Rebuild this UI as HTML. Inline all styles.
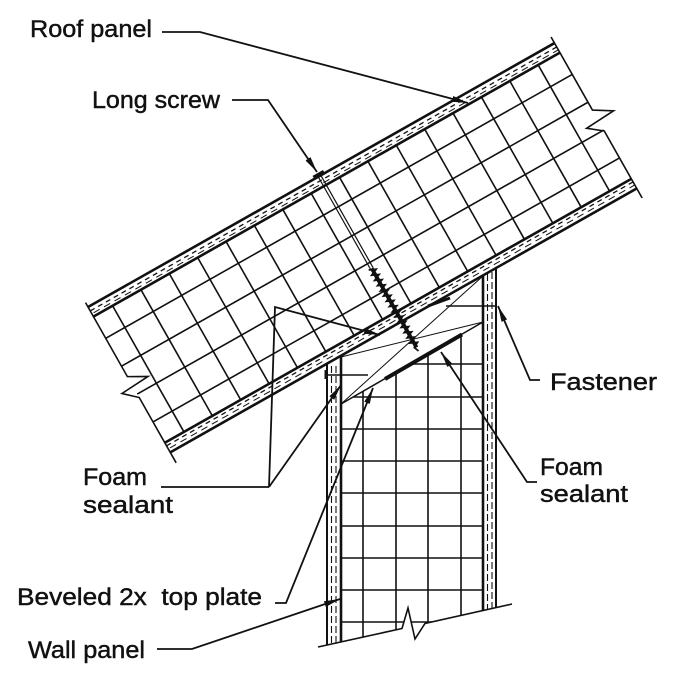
<!DOCTYPE html>
<html><head><meta charset="utf-8">
<style>
html,body{margin:0;padding:0;background:#fff;}
svg{display:block;}
text{font-family:"Liberation Sans",sans-serif;font-size:24px;fill:#111;stroke:#111;stroke-width:0.45px;}
</style></head><body>
<svg width="680" height="689" viewBox="0 0 680 689" xmlns="http://www.w3.org/2000/svg">
<defs>
<marker id="ah" markerWidth="17" markerHeight="8" refX="16" refY="4" orient="auto" markerUnits="userSpaceOnUse">
<path d="M0,1 L16,4 L0,7 z" fill="#111"/>
</marker>
<clipPath id="wallclip">
<polygon points="341,404 483,322 483,610.7 425,623.5 415,639 408,608 402,628.5 341,641.9"/>
</clipPath>
</defs>

<!-- ROOF PANEL -->
<g transform="translate(88,307) rotate(-29.5)" stroke="#111" fill="none">
  <g stroke-width="1.6">
    <line x1="22" y1="11" x2="22" y2="156"/>
    <line x1="54.6" y1="11" x2="54.6" y2="156"/>
    <line x1="87.2" y1="11" x2="87.2" y2="156"/>
    <line x1="119.8" y1="11" x2="119.8" y2="156"/>
    <line x1="152.4" y1="11" x2="152.4" y2="156"/>
    <line x1="185" y1="11" x2="185" y2="156"/>
    <line x1="217.6" y1="11" x2="217.6" y2="156"/>
    <line x1="250.2" y1="11" x2="250.2" y2="156"/>
    <line x1="282.8" y1="11" x2="282.8" y2="156"/>
    <line x1="315.4" y1="11" x2="315.4" y2="156"/>
    <line x1="348" y1="11" x2="348" y2="156"/>
    <line x1="380.6" y1="11" x2="380.6" y2="156"/>
    <line x1="413.2" y1="11" x2="413.2" y2="156"/>
    <line x1="445.8" y1="11" x2="445.8" y2="156"/>
    <line x1="478.4" y1="11" x2="478.4" y2="156"/>
    <line x1="511" y1="11" x2="511" y2="156"/>
    <line x1="0" y1="36" x2="536" y2="36"/>
    <line x1="0" y1="68" x2="536" y2="68"/>
    <line x1="0" y1="100" x2="536" y2="100"/>
    <line x1="0" y1="132" x2="536" y2="132"/>
  </g>
  <rect x="0" y="0" width="536" height="11" fill="#fff" stroke="none"/>
  <rect x="0" y="156" width="536" height="11" fill="#fff" stroke="none"/>
  <line x1="0" y1="0" x2="536" y2="0" stroke-width="2.6"/>
  <line x1="0" y1="4.5" x2="536" y2="4.5" stroke-width="1.3" stroke-dasharray="5 4"/>
  <line x1="2" y1="7.8" x2="536" y2="7.8" stroke-width="1" stroke-dasharray="7 5"/>
  <line x1="0" y1="11" x2="536" y2="11" stroke-width="2.6"/>
  <line x1="0" y1="156" x2="536" y2="156" stroke-width="2.6"/>
  <line x1="0" y1="159.5" x2="536" y2="159.5" stroke-width="1.3" stroke-dasharray="5 4"/>
  <line x1="2" y1="163" x2="536" y2="163" stroke-width="1" stroke-dasharray="7 5"/>
  <line x1="0" y1="167" x2="536" y2="167" stroke-width="2.6"/>
  <polyline points="0,-5 0,80 18,90 -13,92 0,104 0,179" stroke-width="1.6" fill="none"/>
  <polyline points="536,-7 536,77 554,88 522,90 536,101 536,178" stroke-width="1.6" fill="none"/>
  <!-- screw -->
  <rect x="260" y="-3.5" width="12" height="4.5" fill="#111" stroke="none"/>
  <line x1="264.5" y1="1" x2="264.5" y2="106" stroke-width="1.2"/>
  <line x1="267.5" y1="1" x2="267.5" y2="106" stroke-width="1.2"/>
  <line x1="266" y1="106" x2="266" y2="197" stroke-width="3.8"/>
  <polyline stroke-width="1.7" points="262.5,106 269.5,109 262.5,112 269.5,115 262.5,118 269.5,121 262.5,124 269.5,127 262.5,130 269.5,133 262.5,136 269.5,139 262.5,142 269.5,145 262.5,148 269.5,151 262.5,154 269.5,157 262.5,160 269.5,163 262.5,166 269.5,169 262.5,172 269.5,175 262.5,178 269.5,181 262.5,184 269.5,187 262.5,190 269.5,193 264,196 266,201"/>
</g>

<!-- WALL PANEL -->
<g stroke="#111" fill="none">
  <g clip-path="url(#wallclip)" stroke-width="1.6">
    <line x1="363" y1="300" x2="363" y2="660"/>
    <line x1="396" y1="300" x2="396" y2="660"/>
    <line x1="428" y1="300" x2="428" y2="660"/>
    <line x1="461" y1="300" x2="461" y2="660"/>
    <line x1="341" y1="364" x2="483" y2="364"/>
    <line x1="341" y1="397" x2="483" y2="397"/>
    <line x1="341" y1="429" x2="483" y2="429"/>
    <line x1="341" y1="461" x2="483" y2="461"/>
    <line x1="341" y1="493" x2="483" y2="493"/>
    <line x1="341" y1="526" x2="483" y2="526"/>
    <line x1="341" y1="558" x2="483" y2="558"/>
    <line x1="341" y1="590" x2="483" y2="590"/>
    <line x1="341" y1="622" x2="483" y2="622"/>
  </g>
  <line x1="327" y1="363" x2="327" y2="645" stroke-width="2"/>
  <line x1="331.5" y1="366" x2="331.5" y2="643" stroke-width="1.1" stroke-dasharray="7 3"/>
  <line x1="336" y1="366" x2="336" y2="643" stroke-width="1.1" stroke-dasharray="7 3"/>
  <line x1="341" y1="356" x2="341" y2="642" stroke-width="2.6"/>
  <line x1="483" y1="275" x2="483" y2="611" stroke-width="2.6"/>
  <line x1="487.5" y1="274" x2="487.5" y2="609" stroke-width="1.1" stroke-dasharray="7 3"/>
  <line x1="492" y1="272" x2="492" y2="608" stroke-width="1.1" stroke-dasharray="7 3"/>
  <line x1="496" y1="268" x2="496" y2="607" stroke-width="2"/>
  <polyline points="318,647 402,628.5 408,608 415,639 425,623.5 512,604" stroke-width="1.6"/>
  <line x1="341" y1="404" x2="483" y2="322" stroke-width="1.5"/>
  <line x1="341" y1="357" x2="483" y2="322" stroke-width="1"/>
  <line x1="341" y1="404" x2="483" y2="276" stroke-width="1"/>
  <line x1="385" y1="379" x2="462" y2="334.5" stroke-width="4"/>
  <line x1="327" y1="375" x2="368" y2="375" stroke-width="1.5"/>
  <rect x="324.5" y="370" width="3" height="9" fill="#111" stroke="none"/>
  <line x1="446" y1="306" x2="497" y2="306" stroke-width="1.5"/>
  <line x1="428" y1="306" x2="450" y2="298" stroke-width="3"/>
</g>

<!-- LEADERS -->
<g stroke="#111" stroke-width="1.8" fill="none">
  <polyline points="162,32 200,32 468,103" marker-end="url(#ah)"/>
  <polyline points="232,100 268,100 317,172" marker-end="url(#ah)"/>
  <polyline points="161,487 269,487"/>
  <polyline points="269,487 275,307 380,335" marker-end="url(#ah)"/>
  <polyline points="269,487 341,385" marker-end="url(#ah)"/>
  <polyline points="275,603 286,603 373,388" marker-end="url(#ah)"/>
  <polyline points="157,649 192,649 340,599" marker-end="url(#ah)"/>
  <polyline points="540,380 530,380 498,306" marker-end="url(#ah)"/>
  <polyline points="537,482 527,482 441,352" marker-end="url(#ah)"/>
</g>

<!-- LABELS -->
<text x="30" y="37" textLength="122" lengthAdjust="spacingAndGlyphs">Roof panel</text>
<text x="92" y="108" textLength="128" lengthAdjust="spacingAndGlyphs">Long screw</text>
<text x="83" y="485" textLength="64" lengthAdjust="spacingAndGlyphs">Foam</text>
<text x="83" y="513" textLength="90" lengthAdjust="spacingAndGlyphs">sealant</text>
<text x="17" y="605" textLength="245" lengthAdjust="spacingAndGlyphs" xml:space="preserve">Beveled 2x  top plate</text>
<text x="28" y="658" textLength="117" lengthAdjust="spacingAndGlyphs">Wall panel</text>
<text x="550" y="390" textLength="107" lengthAdjust="spacingAndGlyphs">Fastener</text>
<text x="540" y="475" textLength="63" lengthAdjust="spacingAndGlyphs">Foam</text>
<text x="540" y="502" textLength="88" lengthAdjust="spacingAndGlyphs">sealant</text>
</svg>
</body></html>
